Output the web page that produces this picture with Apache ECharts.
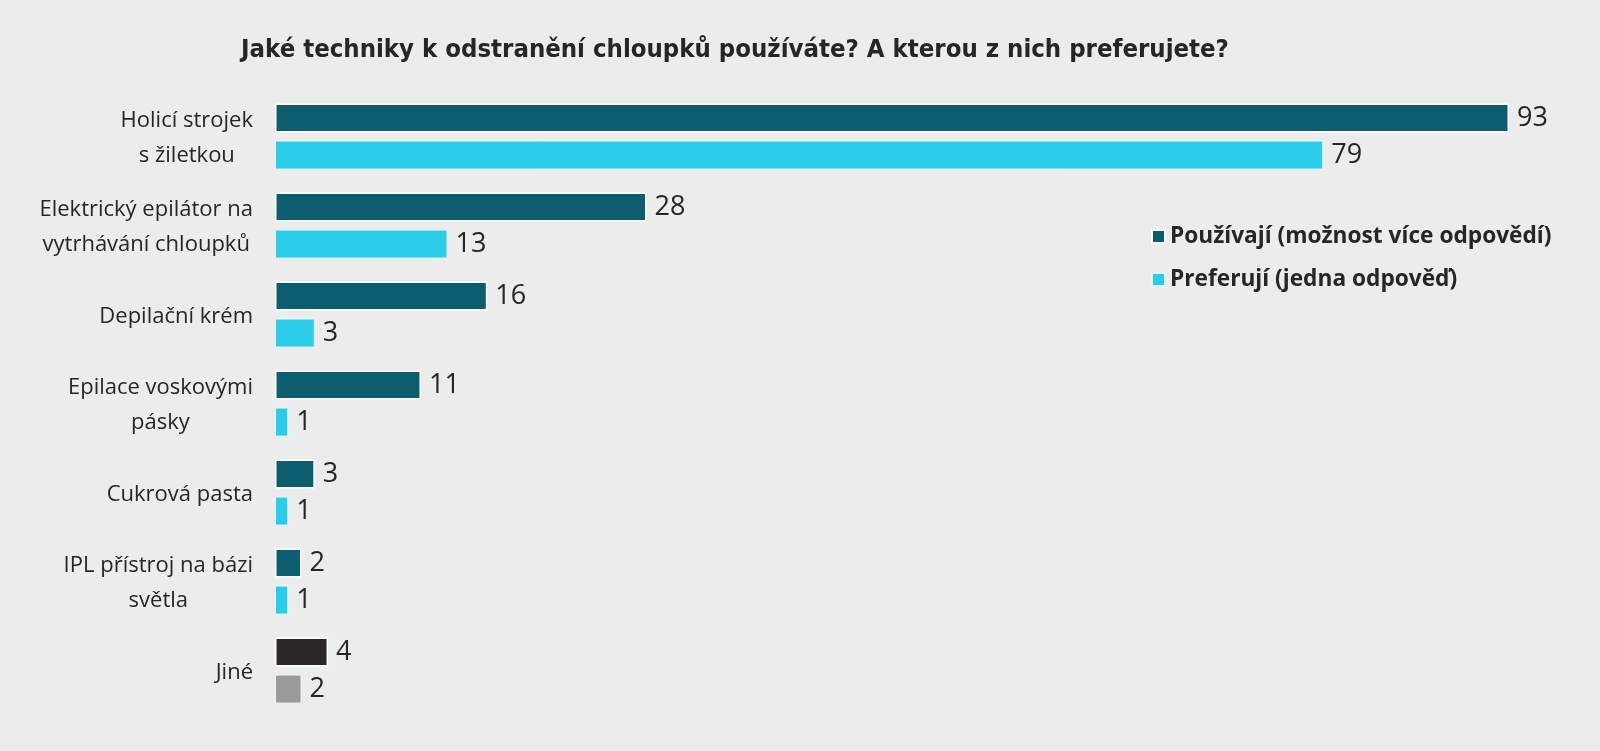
<!DOCTYPE html>
<html>
<head>
<meta charset="utf-8">
<script src="https://cdn.jsdelivr.net/npm/echarts@6/dist/echarts.min.js"></script>
<style>
  html, body { margin: 0; padding: 0; background: #ececec; }
  #chart { width: 1600px; height: 751px; }
</style>
</head>
<body>
<div id="chart"></div>
<script>
var categories = [
  'Holicí strojek\ns žiletkou',
  'Elektrický epilátor na\nvytrhávání chloupků',
  'Depilační krém',
  'Epilace voskovými\npásky',
  'Cukrová pasta',
  'IPL přístroj na bázi\nsvětla',
  'Jiné'
];
var usedValues = [93, 28, 16, 11, 3, 2, 4];
var preferredValues = [79, 13, 3, 1, 1, 1, 2];

var darkColor = '#0c5d6d';
var lightColor = '#2bcbea';
// "Jiné" row is drawn in other colours
var otherDark = '#2b2728';
var otherLight = '#9b9a9a';

var font = 'Open Sans';

var chart = echarts.init(document.getElementById('chart'));

function toItems(values, lastColor) {
  return values.map(function (v, i) {
    if (i === values.length - 1) {
      return { value: v, itemStyle: { color: lastColor } };
    }
    return v;
  });
}

var valueLabel = {
  show: true,
  position: 'right',
  distance: 8,
  fontFamily: font,
  fontSize: 27,
  color: '#262626'
};

var option = {
  backgroundColor: '#ececec',
  title: {
    text: 'Jaké techniky k odstranění chloupků používáte? A kterou z nich preferujete?',
    left: 730,
    textAlign: 'center',
    top: 32,
    textStyle: {
      fontFamily: '"DejaVu Sans Condensed", "Open Sans"',
      fontWeight: 'bold',
      fontSize: 25.5,
      color: '#262626'
    }
  },
  legend: {
    orient: 'vertical',
    left: 1146,
    top: 220,
    itemWidth: 13,
    itemHeight: 13,
    itemGap: 20,
    icon: 'rect',
    textStyle: {
      fontFamily: font,
      fontWeight: 'bold',
      fontSize: 22.7,
      color: '#262626'
    },
    data: [
      { name: 'Používají (možnost více odpovědí)', itemStyle: { color: darkColor } },
      { name: 'Preferují (jedna odpověď)', itemStyle: { color: lightColor } }
    ]
  },
  grid: {
    left: 275,
    right: 91,
    top: 92,
    bottom: 36
  },
  xAxis: {
    type: 'value',
    min: 0,
    max: 93,
    show: false
  },
  yAxis: {
    type: 'category',
    inverse: true,
    data: categories,
    axisLine: { show: false },
    axisTick: { show: false },
    axisLabel: {
      margin: 22,
      padding: [4, 0, 0, 0],
      formatter: function (v) {
        return v.split('\n').map(function (l) { return '{c|' + l + '}'; }).join('\n');
      },
      rich: {
        c: {
          align: 'center',
          fontFamily: font,
          fontSize: 22,
          lineHeight: 35,
          color: '#262626'
        }
      }
    }
  },
  series: [
    {
      name: 'Používají (možnost více odpovědí)',
      type: 'bar',
      barWidth: 29,
      barGap: '28%',
      color: darkColor,
      itemStyle: { borderColor: '#ffffff', borderWidth: 1.5 },
      label: valueLabel,
      data: toItems(usedValues, otherDark)
    },
    {
      name: 'Preferují (jedna odpověď)',
      type: 'bar',
      barWidth: 29,
      barGap: '28%',
      color: lightColor,
      itemStyle: { borderColor: '#e4f6fa', borderWidth: 1 },
      label: valueLabel,
      data: toItems(preferredValues, otherLight)
    }
  ]
};

chart.setOption(option);
</script>
</body>
</html>
